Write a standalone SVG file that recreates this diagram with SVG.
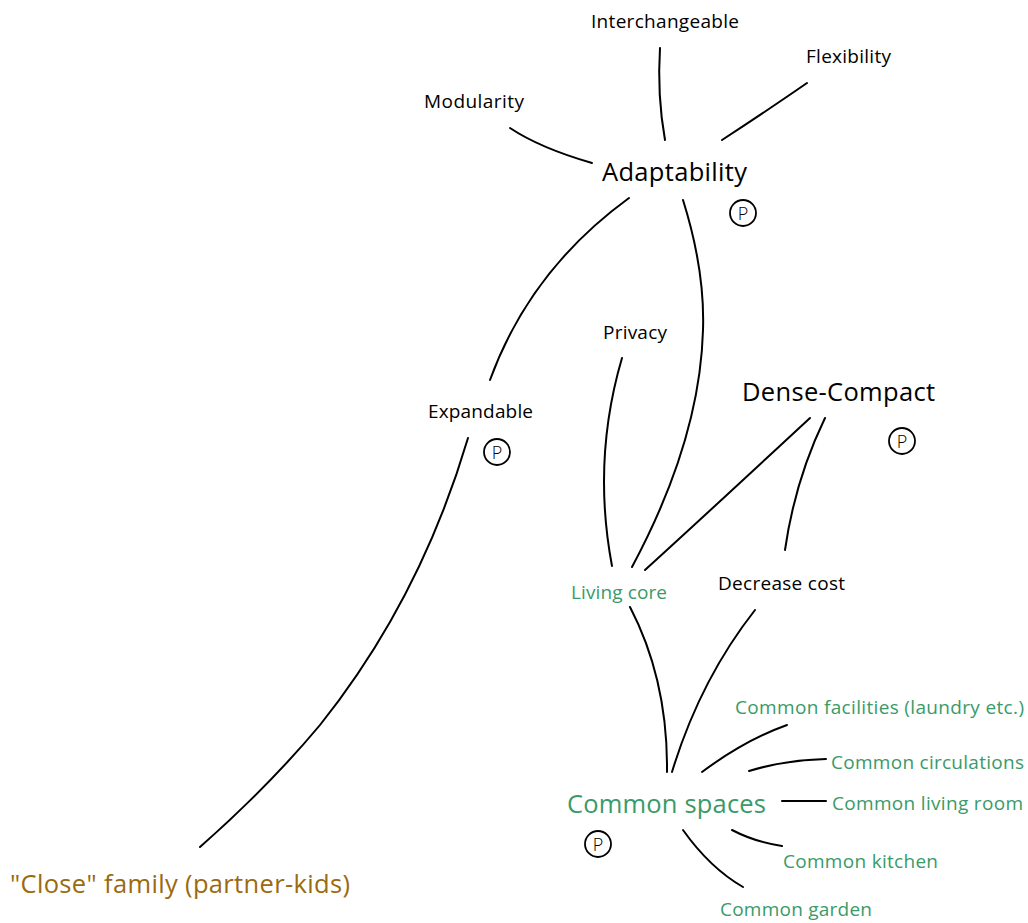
<svg xmlns="http://www.w3.org/2000/svg" width="1028" height="923" viewBox="0 0 1028 923">
<style>
text{font-family:"Open Sans","Noto Sans",sans-serif;fill:#000}
.s{font-size:19px}
.l{font-size:25.5px}
.g{fill:#3a9a68}
.b{fill:#9a6a10}
.c path{fill:none;stroke:#000;stroke-width:2;stroke-linecap:round}
.p circle{fill:none;stroke:#000;stroke-width:1.8}
.p text{font-size:18px;font-weight:300}
</style>
<rect width="1028" height="923" fill="#fff"/>
<g class="c" id="connectors">
<path d="M510,128 Q540,148 592,163"/>
<path d="M660,48 Q657,95 665,140"/>
<path d="M807,83 Q765,112 722,140"/>
<path d="M629,198 Q530,270 490,380"/>
<path d="M683,200 Q705,270 703,330 Q700,440 632,567"/>
<path d="M622,358 Q592,460 612,566"/>
<path d="M810,418 Q700,520 645,570"/>
<path d="M825,418 Q795,480 785,550"/>
<path d="M468,438 Q420,600 320,725 Q270,785 200,847"/>
<path d="M630,607 Q668,680 667,772"/>
<path d="M755,610 Q700,680 672,772"/>
<path d="M702,772 Q745,740 787,725"/>
<path d="M749,771 Q785,760 826,759"/>
<path d="M782,801 L826,801"/>
<path d="M732,830 Q755,842 782,846"/>
<path d="M683,830 Q710,868 743,887"/>
</g>
<g id="interchangeable"><text class="s" x="591" y="28" textLength="148">Interchangeable</text></g>
<g id="flexibility"><text class="s" x="806" y="63" textLength="85">Flexibility</text></g>
<g id="modularity"><text class="s" x="424" y="108" textLength="100">Modularity</text></g>
<g id="adaptability"><text class="l" x="602" y="181" textLength="145">Adaptability</text>
<g class="p"><circle cx="743" cy="213" r="13"/><text x="743" y="220" text-anchor="middle">P</text></g></g>
<g id="privacy"><text class="s" x="603" y="339" textLength="64">Privacy</text></g>
<g id="dense-compact"><text class="l" x="742" y="401" textLength="193">Dense-Compact</text>
<g class="p"><circle cx="902" cy="441" r="13"/><text x="902" y="447.5" text-anchor="middle">P</text></g></g>
<g id="expandable"><text class="s" x="428" y="418" textLength="105">Expandable</text>
<g class="p"><circle cx="497" cy="452" r="13"/><text x="497" y="458.5" text-anchor="middle">P</text></g></g>
<g id="living-core"><text class="s g" x="571" y="599" textLength="96">Living core</text></g>
<g id="decrease-cost"><text class="s" x="718" y="590" textLength="127">Decrease cost</text></g>
<g id="common-facilities"><text class="s g" x="735" y="714" textLength="289">Common facilities (laundry etc.)</text></g>
<g id="common-circulations"><text class="s g" x="831" y="769" textLength="193">Common circulations</text></g>
<g id="common-living-room"><text class="s g" x="832" y="810" textLength="191">Common living room</text></g>
<g id="common-spaces"><text class="l g" x="567" y="813" textLength="199">Common spaces</text>
<g class="p"><circle cx="598" cy="844" r="13"/><text x="598" y="850.5" text-anchor="middle">P</text></g></g>
<g id="common-kitchen"><text class="s g" x="783" y="868" textLength="155">Common kitchen</text></g>
<g id="common-garden"><text class="s g" x="720" y="916" textLength="152">Common garden</text></g>
<g id="close-family"><text class="l b" x="10" y="893" textLength="340">"Close" family (partner-kids)</text></g>
</svg>
